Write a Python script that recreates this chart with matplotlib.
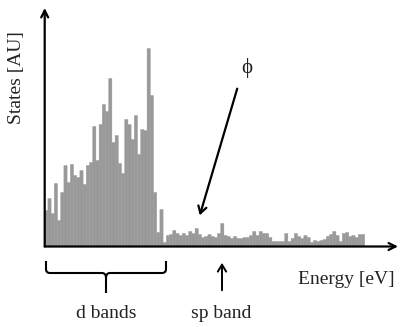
import numpy as np
import matplotlib
matplotlib.use("Agg")
import matplotlib.pyplot as plt
from matplotlib.path import Path
from matplotlib.patches import PathPatch

# Density of states, arbitrary units
d_band_states = [36, 48, 33, 63, 26, 54, 81, 64, 82, 71,
                 69, 76, 62, 81, 84, 120, 86, 122, 142, 135,
                 168, 104, 111, 83, 73, 127, 122, 107, 131, 92,
                 117, 116, 198, 151, 54, 14, 37, 4, 11]
sp_band_states = [12, 16, 13, 11, 13, 11, 15, 13, 18, 12,
                  9, 10, 12, 10, 9, 13, 23, 11, 10, 8,
                  10, 8, 8, 9, 9, 11, 15, 11, 15, 13,
                  13, 9, 5, 5, 5, 5, 13, 5, 8, 13,
                  10, 8, 11, 9, 4, 6, 5, 6, 7, 10,
                  12, 15, 11, 5, 13, 14, 10, 11, 9, 12, 12]
states = np.array(d_band_states + sp_band_states)
n_bins = len(states)

W, H = 403, 327
plt.rcParams["font.family"] = ["Liberation Serif", "DejaVu Serif"]
TXT = "#222222"

def fig_xy(x, y):
    """pixel coords (y down) -> figure fraction"""
    return x / W, 1 - y / H

fig = plt.figure(figsize=(W / 100, H / 100), dpi=100)

# axes: origin at pixel (44.7, 246.5), x arrow ends at 398, y arrow at 8
x0, y0, x1, y1 = 44.7, 246.5, 398, 8
ax = fig.add_axes([x0 / W, 1 - y0 / H, (x1 - x0) / W, (y0 - y1) / H])
bin_px = 3.2
ax.set_xlim(0, (x1 - x0) / bin_px)
ax.set_ylim(0, y0 - y1)
bars = ax.bar(np.arange(n_bins), states, width=1.0, align="edge", color="#999999",
              edgecolor="#999999", linewidth=0.3)
for b in bars:
    b.set_snap(False)
ax.axis("off")

# axis arrows
arrow = dict(arrowstyle="->,head_length=0.5,head_width=0.25", color="black", lw=1.6,
             shrinkA=0, shrinkB=0)
ax.annotate("", xy=(0, 1), xytext=(0, 0), xycoords="axes fraction", arrowprops=arrow)
ax.annotate("", xy=(1, 0), xytext=(0, 0), xycoords="axes fraction", arrowprops=arrow)

fig.text(*fig_xy(17, 78), "States [AU]", rotation=90, ha="center", va="center",
         fontsize=14, color=TXT)
fig.text(*fig_xy(346, 280), "Energy [eV]", ha="center", va="center", fontsize=14, color=TXT)
fig.text(*fig_xy(106, 314), "d bands", ha="center", va="center", fontsize=14, color=TXT)
fig.text(*fig_xy(221, 314), "sp band", ha="center", va="center", fontsize=14, color=TXT)
fig.text(*fig_xy(247, 68), "ϕ", ha="center", va="center", fontsize=15, color=TXT)

# work function arrow
fig.add_artist(matplotlib.patches.FancyArrowPatch(
    fig_xy(238, 86), fig_xy(199, 218), transform=fig.transFigure,
    arrowstyle="->,head_length=5,head_width=3", color="black", lw=1.6))

# sp band arrow
fig.add_artist(matplotlib.patches.FancyArrowPatch(
    fig_xy(222, 293), fig_xy(222, 260), transform=fig.transFigure,
    arrowstyle="->,head_length=5,head_width=3", color="black", lw=1.4))

# d band brace
pts = [(46, 261), (46, 269), (46, 273), (50, 273), (102, 273), (106, 273), (106, 278), (106, 293),
       (166, 261), (166, 269), (166, 273), (162, 273), (110, 273), (106, 273), (106, 278)]
codes = [Path.MOVETO, Path.LINETO, Path.CURVE3, Path.CURVE3, Path.LINETO, Path.CURVE3, Path.CURVE3,
         Path.LINETO,
         Path.MOVETO, Path.LINETO, Path.CURVE3, Path.CURVE3, Path.LINETO, Path.CURVE3, Path.CURVE3]
brace = Path([fig_xy(x, y) for x, y in pts], codes)
fig.add_artist(PathPatch(brace, transform=fig.transFigure, fill=False, edgecolor="black", lw=1.5))

fig.savefig("out.png", dpi=100)
